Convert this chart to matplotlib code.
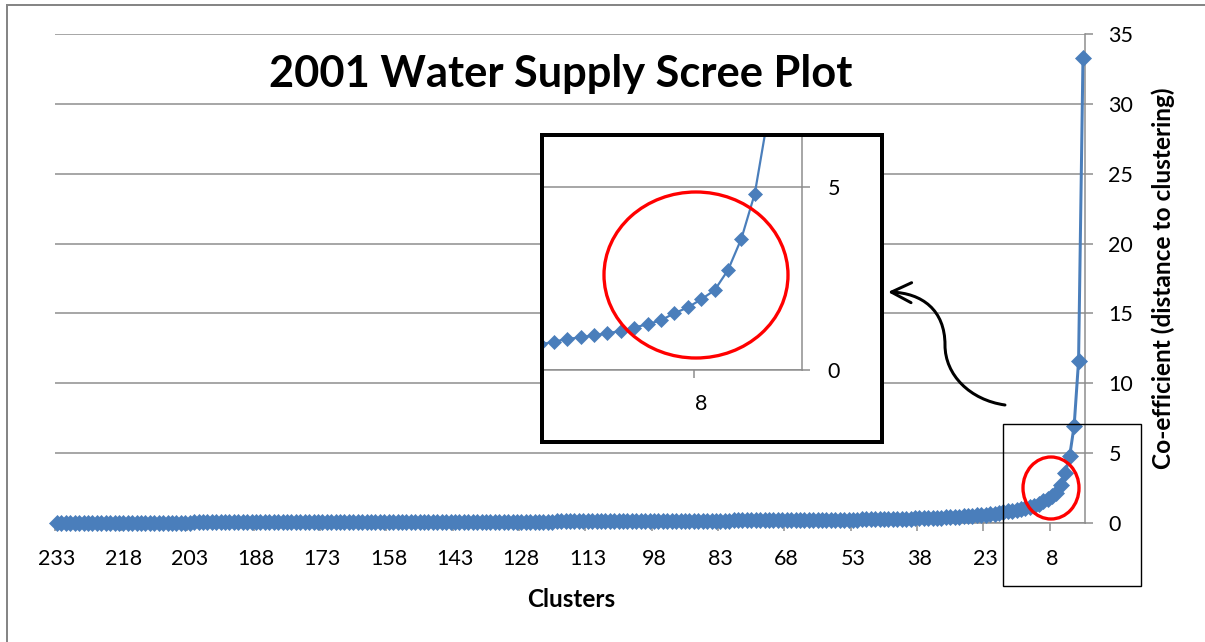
import matplotlib
matplotlib.use('Agg')
import matplotlib.pyplot as plt
from matplotlib.patches import Rectangle, Ellipse, FancyArrowPatch
from matplotlib.path import Path
from matplotlib.lines import Line2D

# ---------------- data ----------------
clusters = list(range(233, 0, -1))
coefficients = [
    0.01, 0.01, 0.01, 0.01, 0.01, 0.01, 0.01, 0.01, 0.02, 0.02,   # 233-224
    0.02, 0.02, 0.02, 0.02, 0.02, 0.02, 0.02, 0.02, 0.02, 0.02,   # 223-214
    0.03, 0.03, 0.03, 0.03, 0.03, 0.03, 0.03, 0.03, 0.03, 0.03,   # 213-204
    0.03, 0.04, 0.04, 0.04, 0.04, 0.04, 0.04, 0.04, 0.04, 0.04,   # 203-194
    0.04, 0.04, 0.05, 0.05, 0.05, 0.05, 0.05, 0.05, 0.05, 0.05,   # 193-184
    0.05, 0.05, 0.05, 0.05, 0.06, 0.06, 0.06, 0.06, 0.06, 0.06,   # 183-174
    0.06, 0.06, 0.06, 0.06, 0.06, 0.06, 0.07, 0.07, 0.07, 0.07,   # 173-164
    0.07, 0.07, 0.07, 0.07, 0.07, 0.07, 0.07, 0.07, 0.08, 0.08,   # 163-154
    0.08, 0.08, 0.08, 0.08, 0.08, 0.08, 0.08, 0.08, 0.08, 0.08,   # 153-144
    0.09, 0.09, 0.09, 0.09, 0.09, 0.09, 0.09, 0.09, 0.09, 0.09,   # 143-134
    0.09, 0.09, 0.10, 0.10, 0.10, 0.10, 0.10, 0.10, 0.10, 0.10,   # 133-124
    0.10, 0.10, 0.10, 0.11, 0.11, 0.11, 0.11, 0.11, 0.11, 0.11,   # 123-114
    0.11, 0.12, 0.12, 0.12, 0.12, 0.12, 0.12, 0.13, 0.13, 0.13,   # 113-104
    0.13, 0.13, 0.13, 0.14, 0.14, 0.14, 0.14, 0.14, 0.15, 0.15,   # 103-94
    0.15, 0.15, 0.15, 0.16, 0.16, 0.16, 0.16, 0.16, 0.17, 0.17,   # 93-84
    0.17, 0.17, 0.17, 0.18, 0.18, 0.18, 0.18, 0.19, 0.19, 0.19,   # 83-74
    0.19, 0.19, 0.20, 0.20, 0.20, 0.20, 0.21, 0.21, 0.21, 0.21,   # 73-64
    0.22, 0.22, 0.22, 0.23, 0.23, 0.23, 0.24, 0.24, 0.24, 0.25,   # 63-54
    0.25, 0.25, 0.26, 0.26, 0.27, 0.27, 0.28, 0.28, 0.29, 0.29,   # 53-44
    0.30, 0.31, 0.31, 0.32, 0.33, 0.34, 0.35, 0.36, 0.37, 0.38,   # 43-34
    0.39, 0.40, 0.42, 0.43, 0.45, 0.47, 0.49, 0.51, 0.54, 0.57,   # 33-24
    0.60, 0.63, 0.66,                                             # 23-21
    0.70, 0.77, 0.85, 0.89, 0.95, 1.00, 1.07, 1.16, 1.25, 1.36,   # 20-11
    1.55, 1.71, 1.93, 2.18, 2.73, 3.59, 4.82, 6.96, 11.6, 33.3,   # 10-1
]
tick_clusters = [233, 218, 203, 188, 173, 158, 143, 128, 113, 98, 83, 68, 53, 38, 23, 8]
y_ticks = [0, 5, 10, 15, 20, 25, 30, 35]
inset_tick_clusters = [8]
inset_y_ticks = [0, 5]

title = "2001 Water Supply Scree Plot"
x_label = "Clusters"
y_label = "Co-efficient (distance to clustering)"

# ---------------- styling ----------------
plt.rcParams['font.family'] = ['Lato', 'DejaVu Sans']
W, H, DPI = 1205, 642, 100
PX = 72.0 / DPI          # points per pixel
LINE = '#4A7EBB'
GRID = '#8C8C8C'
TICKFS = 15.5

fig = plt.figure(figsize=(W / DPI, H / DPI), dpi=DPI)
fig.patch.set_facecolor('white')


def fx(x):
    return x / W


def fy(y):
    return 1 - y / H


def rect(l, t, r, b):
    return [fx(l), fy(b), (r - l) / W, (b - t) / H]


pos = [clusters[0] - c for c in clusters]            # category position
tick_pos = [clusters[0] - c for c in tick_clusters]

# ---------------- main axes ----------------
ax = fig.add_axes(rect(54.8, 34, 1085.2, 523))
ax.set_facecolor('none')
ax.plot(pos, coefficients, color=LINE, lw=3 * PX, marker='D', ms=11 * PX,
        mfc=LINE, mec=LINE, mew=0.5, zorder=3, clip_on=False)
ax.set_xlim(-0.5, len(clusters) - 0.5)
ax.set_ylim(0, 35)
for s in ('left', 'top'):
    ax.spines[s].set_visible(False)
for s in ('right', 'bottom'):
    ax.spines[s].set_color(GRID)
    ax.spines[s].set_linewidth(1.5 * PX)
ax.yaxis.tick_right()
ax.set_yticks(y_ticks)
ax.set_yticklabels([str(v) for v in y_ticks])
ax.grid(axis='y', color=GRID, lw=1.5 * PX, zorder=0)
ax.set_axisbelow(True)
ax.tick_params(axis='y', length=8 * PX, width=1.5 * PX, color=GRID,
               pad=11, labelsize=TICKFS)
ax.set_xticks([p - 0.5 for p in tick_pos])
ax.set_xticklabels([])
ax.set_xticks(tick_pos, minor=True)
ax.set_xticklabels([str(c) for c in tick_clusters], minor=True)
ax.tick_params(axis='x', which='major', length=8 * PX, width=1.5 * PX, color=GRID)
ax.tick_params(axis='x', which='minor', length=0, pad=19, labelsize=TICKFS)

# ---------------- texts ----------------
renderer = fig.canvas.get_renderer()


def fit(t, target, vertical=False):
    for _ in range(3):
        bb = t.get_window_extent(renderer)
        w = bb.height if vertical else bb.width
        t.set_fontsize(t.get_fontsize() * target / w)


t_title = fig.text(fx(561), fy(87), title, ha='center', va='baseline',
                   fontweight='bold', fontsize=30)
fit(t_title, 583)
t_x = fig.text(fx(571), fy(607), x_label, ha='center', va='baseline',
               fontweight='bold', fontsize=14)
fit(t_x, 88)
t_y = fig.text(fx(1163), fy(278), y_label, ha='center', va='center',
               rotation=90, fontweight='bold', fontsize=14)
fit(t_y, 382, vertical=True)

# ---------------- inset (zoomed view) ----------------
fig.add_artist(Rectangle((fx(542), fy(442)), (882 - 542) / W, (442 - 135) / H,
                         transform=fig.transFigure, fc='white', ec='none', zorder=1))
ia = fig.add_axes(rect(542, 135, 801.7, 370), zorder=2)
ia.set_facecolor('none')
ia.plot(pos, coefficients, color=LINE, lw=2.2 * PX, marker='D', ms=10.5 * PX,
        mfc=LINE, mec=LINE, mew=0.5, zorder=3)
ia.set_xlim(213.12, len(clusters) - 0.5)
ia.set_ylim(0, 6.42)
for s in ('left', 'top'):
    ia.spines[s].set_visible(False)
for s in ('right', 'bottom'):
    ia.spines[s].set_color(GRID)
    ia.spines[s].set_linewidth(1.5 * PX)
ia.yaxis.tick_right()
ia.set_yticks(inset_y_ticks)
ia.set_yticklabels([str(v) for v in inset_y_ticks])
ia.grid(axis='y', color=GRID, lw=1.5 * PX, zorder=0)
ia.set_axisbelow(True)
ia.tick_params(axis='y', length=8 * PX, width=1.5 * PX, color=GRID,
               pad=13, labelsize=TICKFS)
inset_pos = [clusters[0] - c for c in inset_tick_clusters]
ia.set_xticks([p - 0.5 for p in inset_pos])
ia.set_xticklabels([])
ia.set_xticks(inset_pos, minor=True)
ia.set_xticklabels([str(c) for c in inset_tick_clusters], minor=True)
ia.tick_params(axis='x', which='major', length=8 * PX, width=1.5 * PX, color=GRID)
ia.tick_params(axis='x', which='minor', length=0, pad=17, labelsize=TICKFS)
fig.add_artist(Rectangle((fx(542), fy(442)), (882 - 542) / W, (442 - 135) / H,
                         transform=fig.transFigure, fill=False, ec='black',
                         lw=4 * PX, zorder=3))

# ---------------- annotations ----------------
fig.add_artist(Ellipse((fx(696), fy(275)), 184 / W, 166 / H, transform=fig.transFigure,
                       fill=False, ec='#FF0000', lw=3.3 * PX, zorder=4))
fig.add_artist(Ellipse((fx(1051), fy(488)), 56 / W, 62 / H, transform=fig.transFigure,
                       fill=False, ec='#FF0000', lw=3.3 * PX, zorder=4))
fig.add_artist(Rectangle((fx(1003), fy(586)), (1141 - 1003) / W, (586 - 424) / H,
                         transform=fig.transFigure, fill=False, ec='black',
                         lw=1.4 * PX, zorder=4))
arrow_pts = [(1005, 405), (970, 400), (945, 375), (945, 345),
             (945, 310), (922, 293), (888, 292)]
arrow_codes = [Path.MOVETO] + [Path.CURVE4] * 6
arrow = FancyArrowPatch(path=Path([(fx(x), fy(y)) for x, y in arrow_pts], arrow_codes),
                        arrowstyle='->,head_length=0.72,head_width=0.36',
                        mutation_scale=20, transform=fig.transFigure,
                        color='black', lw=3 * PX, zorder=4)
fig.add_artist(arrow)

# outer chart border (left and top visible)
fig.add_artist(Line2D([fx(7), fx(7)], [fy(645), fy(5)], transform=fig.transFigure,
                      color='#868686', lw=2 * PX, zorder=5))
fig.add_artist(Line2D([fx(7), fx(1210)], [fy(5), fy(5)], transform=fig.transFigure,
                      color='#868686', lw=2 * PX, zorder=5))

fig.savefig('out.png', dpi=DPI)
